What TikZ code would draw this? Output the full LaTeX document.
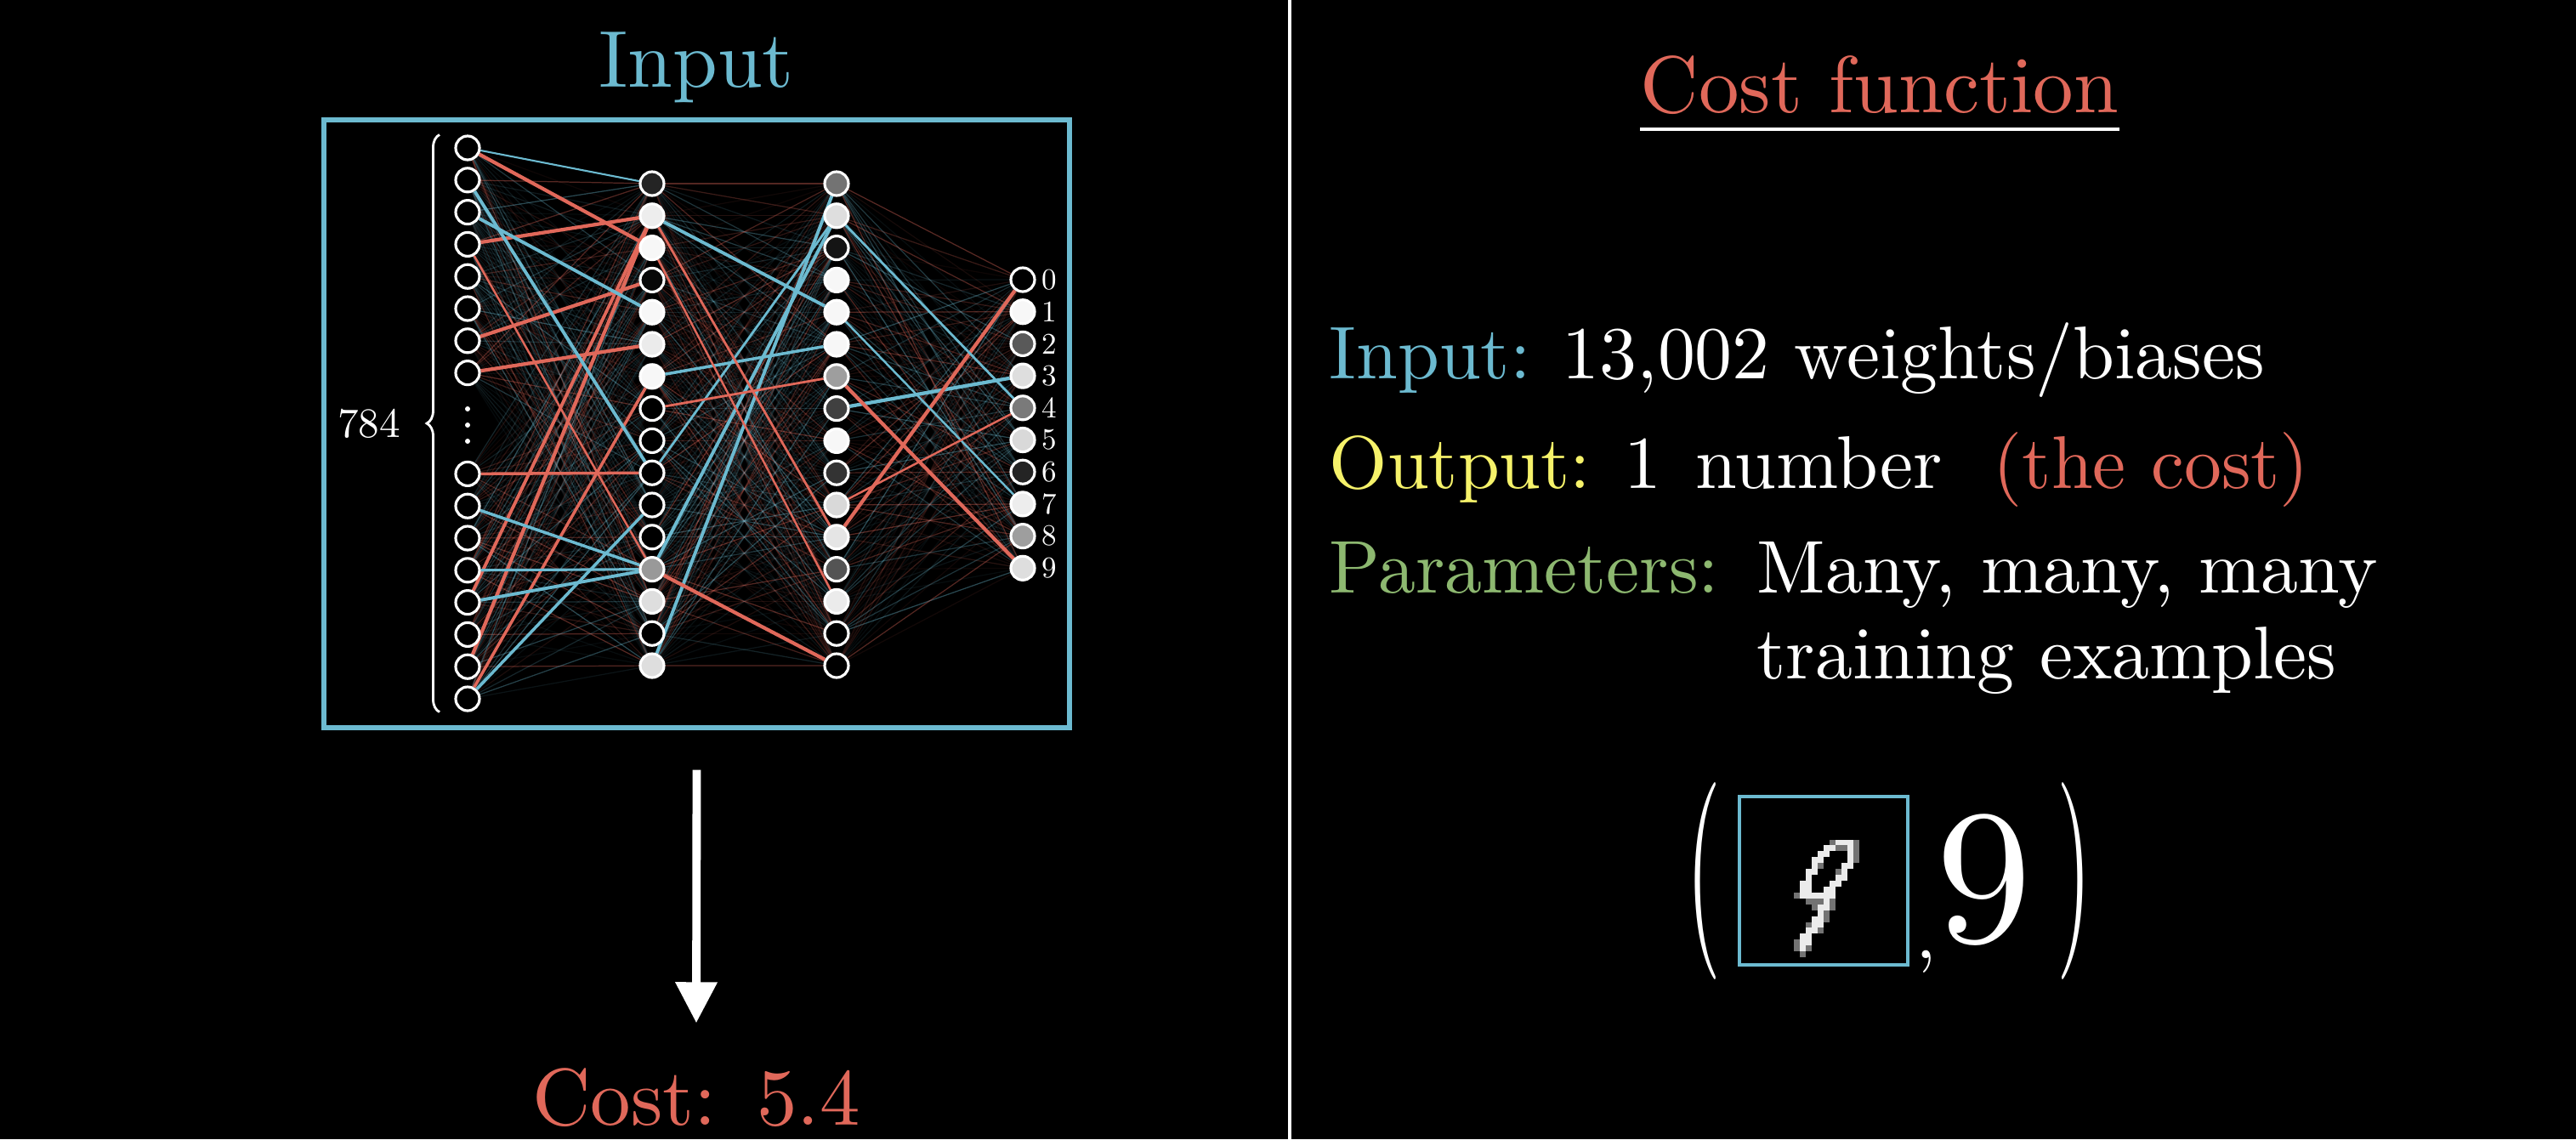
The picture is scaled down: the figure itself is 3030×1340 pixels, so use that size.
\documentclass[tikz,border=0pt]{standalone}
\usepackage{tikz}
\usetikzlibrary{arrows.meta,positioning,backgrounds,decorations.pathreplacing}
\definecolor{NetBlue}{HTML}{6CBAD0}
\definecolor{NetRed}{HTML}{E0685A}
\definecolor{TxtYellow}{HTML}{F6F26A}
\definecolor{TxtGreen}{HTML}{8DB870}
\newcommand\cmsize[1]{\font\cmfont="[lmroman10-regular]" at #1pt\cmfont}
\tikzset{
  neuron/.style={circle,draw=white,line width=.9pt,minimum size=2.8mm,inner sep=0pt},
  weak/.style={line width=.35pt},
  netbox/.style={draw=NetBlue,line width=1.5pt,minimum width=87.7mm,minimum height=71.5mm,inner sep=0pt},
  heading/.style={font={\cmsize{27}},inner sep=0pt},
  body/.style={font={\cmsize{25}},text=white,inner sep=0pt,anchor=base west},
  digit/.style={font={\cmsize{10}},text=white,inner sep=.6mm},
  countbrace/.style={decorate,decoration={brace,amplitude=1.5mm},draw=white,line width=.8pt},
  bigarrow/.style={-{Triangle[width=13.4pt,length=13.7pt]},draw=white,line width=2.8pt},
  bigparen/.style={font={\cmsize{30}},text=white,inner sep=0pt},
  uline/.style={draw=white,line width=1.4pt},
  divider/.style={draw=white,line width=1.1pt},
  pixel/.style={fill=white!92!black},
  dimpixel/.style={fill=white!45!black}
}
\begin{document}
\begin{tikzpicture}[x=0.1mm,y=-0.1mm]
  \useasboundingbox (0,0) rectangle (3030,1340);

  % network
  \node[netbox] (netbox) at (819.5,498.5) {};
  \node[heading,text=NetBlue,anchor=base] (intitle) at (819,102) {Input};
  \foreach \k in {1,...,16}{
    \pgfmathsetmacro\yy{\k<9 ? 174+37.8*(\k-1) : 822-37.8*(16-\k)}
    \node[neuron,fill=black] (in\k) at (550,\yy) {};
  }
  \foreach \k/\w in {1/14,2/93,3/97,4/3,5/97,6/92,7/97,8/0,9/0,10/0,11/0,12/0,13/60,14/87,15/0,16/87}
    \node[neuron,fill=white!\w!black] (ha\k) at (767,{216+37.8*(\k-1)}) {};
  \foreach \k/\w in {1/45,2/87,3/8,4/97,5/97,6/97,7/62,8/25,9/97,10/20,11/85,12/90,13/33,14/92,15/0,16/0}
    \node[neuron,fill=white!\w!black] (hb\k) at (984,{216+37.8*(\k-1)}) {};
  \foreach \k/\w in {0/0,1/97,2/35,3/87,4/48,5/85,6/14,7/93,8/62,9/87}{
    \node[neuron,fill=white!\w!black] (out\k) at (1203,{329+37.7*\k}) {};
    \node[digit,right=0pt of out\k] (lab\k) {\k};
  }
  \foreach \d in {481,500,519} \fill[white] (550,\d) circle[radius=.3mm];
  \draw[countbrace] ([xshift=-3.3mm]in16.south) -- ([xshift=-3.3mm]in1.north);
  \node[font={\cmsize{14}},text=white,inner sep=0pt] (count) at (434,498) {784};

  \begin{scope}[on background layer]
    \fill[black] (0,0) rectangle (3030,1340);
    \pgfmathsetseed{42}
    \foreach \i in {1,...,16}{
      \foreach \j in {1,...,16}{
        \pgfmathtruncatemacro\pick{random(0,1)}
        \pgfmathsetmacro\op{0.06+0.34*rnd^2}
        \ifnum\pick=1 \def\wcol{NetRed}\else\def\wcol{NetBlue}\fi
        \draw[weak,draw=\wcol,draw opacity=\op] (in\i) -- (ha\j);
        \pgfmathtruncatemacro\pick{random(0,1)}
        \pgfmathsetmacro\op{0.06+0.34*rnd^2}
        \ifnum\pick=1 \def\wcol{NetRed}\else\def\wcol{NetBlue}\fi
        \draw[weak,draw=\wcol,draw opacity=\op] (ha\i) -- (hb\j);
      }
      \foreach \j in {0,...,9}{
        \pgfmathtruncatemacro\pick{random(0,1)}
        \pgfmathsetmacro\op{0.06+0.34*rnd^2}
        \ifnum\pick=1 \def\wcol{NetRed}\else\def\wcol{NetBlue}\fi
        \draw[weak,draw=\wcol,draw opacity=\op] (hb\i) -- (out\j);
      }
    }
    % strong weights
    \foreach \a/\b/\c/\w in {in1/ha3/NetRed/1.2, in4/ha2/NetRed/1.2, in7/ha4/NetRed/1.2,
        in8/ha6/NetRed/1.2, in9/ha10/NetRed/1, in13/ha2/NetRed/1.1, in15/ha2/NetRed/1.2,
        in16/ha7/NetRed/1, in4/ha13/NetRed/.7, in1/ha1/NetBlue/.6, in2/ha10/NetBlue/1.1,
        in3/ha5/NetBlue/1.1, in10/ha13/NetBlue/1, in12/ha13/NetBlue/.9, in13/ha13/NetBlue/1.1,
        in16/ha11/NetBlue/1, ha2/hb5/NetBlue/1.1, ha7/hb6/NetBlue/1, ha16/hb1/NetBlue/1.1,
        ha13/hb2/NetBlue/1.1, ha10/hb2/NetBlue/.8, ha2/hb12/NetRed/.8, ha13/hb16/NetRed/1.2,
        ha8/hb7/NetRed/.8, ha3/hb14/NetRed/.7, hb8/out3/NetBlue/1.2, hb12/out0/NetRed/1.2,
        hb7/out9/NetRed/1.2, hb2/out4/NetBlue/.8, hb5/out7/NetBlue/.7, hb11/out4/NetRed/.7}
      \draw[draw=\c,line width=\w pt] (\a) -- (\b);
  \end{scope}

  % cost output
  \node[heading,text=NetRed,anchor=base] (costval) at (819,1323) {Cost:\enspace5.4};
  \draw[bigarrow] ([yshift=-4.7mm]netbox.south) -- ([yshift=5.2mm]costval.north);

  \draw[divider] (1517,0) -- (1517,1340);

  % right panel
  \node[heading,text=NetRed,anchor=base] (ctitle) at (2211,132) {Cost function};
  \draw[uline] ([yshift=-2mm]ctitle.base west) -- ([yshift=-2mm]ctitle.base east);
  \node[body,text=NetBlue] (inlab) at (1563,445) {Input:};
  \node[body] (inval) at (1837,445) {13,002 weights/biases};
  \node[body,text=TxtYellow] (outlab) at (1563,574) {Output:};
  \node[body] (outval) at (1910,574) {1\hspace{.45em}number};
  \node[body,text=NetRed] (outnote) at (2344,574) {(the cost)};
  \node[body,text=TxtGreen] (parlab) at (1563,697) {Parameters:};
  \node[body] (parval) at (2066,697) {Many, many, many};
  \node[body] (parval2) at (2066,798) {training examples};

  % training example
  \node[bigparen] (lpar) at (2004,1036) {\scalebox{1}[2.2]{(}};
  \node[draw=NetBlue,line width=1.4pt,minimum size=19.8mm,inner sep=0pt] (digitbox) at (2145,1036) {};
  \foreach \c/\r in {16/7,17/7,18/7, 14/8,15/8,18/8, 13/9,14/9,18/9, 12/10,13/10,18/10,
      12/11,17/11,18/11, 11/12,12/12,17/12, 11/13,16/13,17/13, 10/14,11/14,15/14,16/14,
      10/15,11/15,14/15,15/15, 10/16,11/16,12/16,13/16,14/16,15/16, 14/17, 13/18,14/18,
      13/19, 12/20,13/20, 12/21,13/21, 11/22,12/22, 10/23,11/23, 10/24,11/24, 10/25}
    \fill[pixel] ({2048+6.93*\c},{939+6.93*\r}) rectangle +(6.93,6.93);
  \foreach \c/\r in {15/7,19/7,16/8,17/8,19/8,19/9,19/10,13/11,16/12,9/16,11/17,12/17,13/17,
      15/17,12/18,15/18,14/19,14/20,11/21,13/22,9/24,9/25,11/25,10/26}
    \fill[dimpixel] ({2048+6.93*\c},{939+6.93*\r}) rectangle +(6.93,6.93);
  \node[body] (comma) at (2253,1127) {,};
  \node[font={\cmsize{64}},text=white,inner sep=0pt,anchor=base west] (label9) at (2277,1107) {9};
  \node[bigparen] (rpar) at (2440,1036) {\scalebox{1}[2.2]{)}};
\end{tikzpicture}
\end{document}
